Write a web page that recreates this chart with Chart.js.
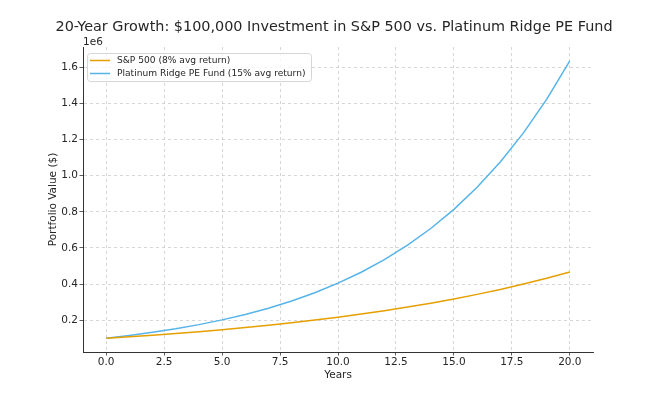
<!DOCTYPE html>
<html lang="en">
<head>
    <meta charset="UTF-8" />
    <title>20-Year Growth</title>
    <script src="https://cdn.jsdelivr.net/npm/chart.js"></script>
    <style>
        html, body { margin: 0; padding: 0; background: #fff; }
        .chart-container { width: 660px; height: 396px; }
    </style>
</head>
<body>
    <div class="chart-container">
        <canvas id="growthChart" width="660" height="396"></canvas>
    </div>
    <script>
        // Data
        const years = [0, 1, 2, 3, 4, 5, 6, 7, 8, 9, 10, 11, 12, 13, 14, 15, 16, 17, 18, 19, 20];
        const sp500Values = [100000, 108000, 116640, 125971, 136049, 146933, 158687, 171382, 185093, 199900,
            215892, 233164, 251817, 271962, 293719, 317217, 342594, 370002, 399602, 431570, 466096];
        const platinumValues = [100000, 115000, 132250, 152088, 174901, 201136, 231306, 266002, 305902, 351788,
            404556, 465239, 535025, 615279, 707571, 813706, 935762, 1076126, 1237545, 1423177, 1636654];
        const xTickValues = [0, 2.5, 5, 7.5, 10, 12.5, 15, 17.5, 20];
        const yTickValues = [200000, 400000, 600000, 800000, 1000000, 1200000, 1400000, 1600000];
        const seriesLabels = ["S&P 500 (8% avg return)", "Platinum Ridge PE Fund (15% avg return)"];
        const chartTitle = "20-Year Growth: $100,000 Investment in S&P 500 vs. Platinum Ridge PE Fund";

        const FONT = "'DejaVu Sans', sans-serif";
        const TEXT = "#262626";

        // title, 1e6 offset text and the in-plot legend
        const extrasPlugin = {
            id: "extras",
            afterDraw(chart) {
                const ctx = chart.ctx;
                const area = chart.chartArea;
                ctx.save();
                ctx.fillStyle = TEXT;
                ctx.font = "14.4px " + FONT;
                ctx.textAlign = "center";
                ctx.textBaseline = "alphabetic";
                ctx.fillText(chartTitle, (area.left + area.right) / 2 - 4, 31);

                ctx.font = "10.5px " + FONT;
                ctx.textAlign = "left";
                ctx.fillText("1e6", area.left, area.top - 2);

                // legend box
                const bx = 87, by = 53, bw = 224, bh = 28;
                ctx.beginPath();
                ctx.roundRect(bx + 0.5, by + 0.5, bw, bh, 3);
                ctx.fillStyle = "rgba(255,255,255,0.8)";
                ctx.fill();
                ctx.strokeStyle = "#d6d6d6";
                ctx.lineWidth = 1;
                ctx.stroke();

                ctx.font = "9.1px " + FONT;
                ctx.textBaseline = "middle";
                chart.data.datasets.forEach((ds, i) => {
                    const ly = by + 7.5 + i * 13;
                    ctx.beginPath();
                    ctx.moveTo(bx + 3, ly);
                    ctx.lineTo(bx + 23, ly);
                    ctx.strokeStyle = ds.borderColor;
                    ctx.lineWidth = 1.5;
                    ctx.stroke();
                    ctx.fillStyle = TEXT;
                    ctx.fillText(ds.label, bx + 30, ly + 0.5);
                });
                ctx.restore();
            }
        };

        const growthData = {
            datasets: [
                {
                    label: seriesLabels[0],
                    data: years.map((x, i) => ({ x: x, y: sp500Values[i] })),
                    borderColor: "#E69F00",
                    backgroundColor: "#E69F00",
                    borderWidth: 1.5,
                    pointRadius: 0,
                    tension: 0,
                },
                {
                    label: seriesLabels[1],
                    data: years.map((x, i) => ({ x: x, y: platinumValues[i] })),
                    borderColor: "#56B4E9",
                    backgroundColor: "#56B4E9",
                    borderWidth: 1.5,
                    pointRadius: 0,
                    tension: 0,
                },
            ],
        };

        const growthConfig = {
            type: "line",
            data: growthData,
            plugins: [extrasPlugin],
            options: {
                responsive: false,
                animation: false,
                layout: { padding: { left: 0, right: 67, top: 47, bottom: 0 } },
                plugins: {
                    legend: { display: false },
                    title: { display: false },
                    tooltip: { enabled: false },
                },
                scales: {
                    x: {
                        type: "linear",
                        min: -1,
                        max: 21,
                        afterFit(scale) { scale.height = 44; },
                        afterBuildTicks(scale) { scale.ticks = xTickValues.map(v => ({ value: v })); },
                        ticks: {
                            color: TEXT,
                            font: { family: FONT, size: 10.5 },
                            padding: 0,
                            maxRotation: 0,
                            callback: v => v.toFixed(1),
                        },
                        grid: { color: "#cccccc", lineWidth: 0.8, tickLength: 3.5, tickColor: "#333" },
                        border: { display: true, color: "#333", width: 1, dash: [3, 3] },
                        title: {
                            display: true,
                            text: "Years",
                            color: TEXT,
                            font: { family: FONT, size: 10.5 },
                            padding: { top: 0, bottom: 14.5 },
                        },
                    },
                    y: {
                        type: "linear",
                        min: 23200,
                        max: 1713400,
                        afterFit(scale) { scale.width = 83; },
                        afterBuildTicks(scale) { scale.ticks = yTickValues.map(v => ({ value: v })); },
                        ticks: {
                            color: TEXT,
                            font: { family: FONT, size: 10.5 },
                            padding: 1.5,
                            callback: v => (v / 1e6).toFixed(1),
                        },
                        grid: { color: "#cccccc", lineWidth: 0.8, tickLength: 3.5, tickColor: "#333" },
                        border: { display: true, color: "#333", width: 1, dash: [3, 3] },
                        title: {
                            display: true,
                            text: "Portfolio Value ($)",
                            color: TEXT,
                            font: { family: FONT, size: 10.5 },
                            padding: { top: 46.5, bottom: 0 },
                        },
                    },
                },
            },
        };

        window.onload = function () {
            const growthCtx = document.getElementById("growthChart").getContext("2d");
            new Chart(growthCtx, growthConfig);
        };
    </script>
</body>
</html>
